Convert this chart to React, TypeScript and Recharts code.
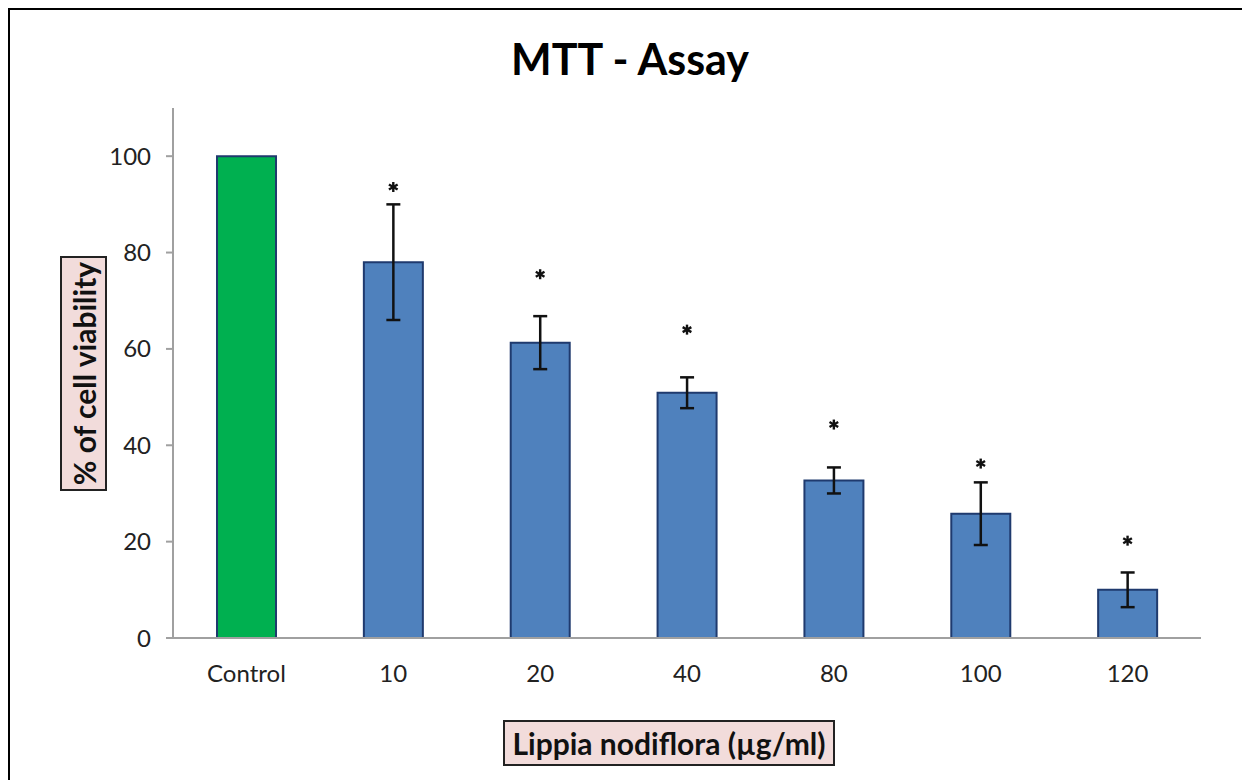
import React from 'react';
import { ComposedChart, Bar, Cell, ErrorBar, Scatter, XAxis, YAxis } from 'recharts';

const doses = ['Control', '10', '20', '40', '80', '100', '120'];
const viability = [100, 78, 61.3, 50.9, 32.7, 25.8, 10];
const sd = [0, 12, 5.5, 3.2, 2.7, 6.5, 3.6];
const starLevel = [null, 93.6, 75.5, 64, 44.3, 36.2, 20.2];
const yTicks = [0, 20, 40, 60, 80, 100];
const boundaryTicks = [0, 1, 2, 3, 4, 5, 6, 7];

const rows = doses.map((dose, i) => ({
    dose,
    value: viability[i],
    sd: sd[i],
    star: starLevel[i],
}));

const FONT = 'Lato, "Open Sans", sans-serif';
const AXIS_GREY = '#a0a0a0';

const Asterisk = (props: any) => {
    const { cx, cy } = props;
    if (cx == null || cy == null) return null;
    const r = 5;
    return (
        <g stroke="#111" strokeWidth={2.4}>
            <line x1={cx} y1={cy - r} x2={cx} y2={cy + r} />
            <line x1={cx - r * 0.87} y1={cy - r / 2} x2={cx + r * 0.87} y2={cy + r / 2} />
            <line x1={cx - r * 0.87} y1={cy + r / 2} x2={cx + r * 0.87} y2={cy - r / 2} />
        </g>
    );
};

const labelBox: React.CSSProperties = {
    position: 'absolute',
    background: '#f2dcdb',
    border: '2px solid #222',
    boxSizing: 'border-box',
    fontFamily: FONT,
    fontWeight: 700,
    color: '#111',
    display: 'flex',
    alignItems: 'center',
    justifyContent: 'center',
    whiteSpace: 'nowrap',
};

const App: React.FC = () => {
    return (
        <div
            style={{
                position: 'relative',
                width: 1242,
                height: 772,
                boxSizing: 'border-box',
                borderTop: '2px solid #000',
                borderLeft: '2px solid #000',
                background: '#fff',
                overflow: 'hidden',
            }}
        >
            <div
                style={{
                    position: 'absolute',
                    left: 370,
                    width: 500,
                    top: 23,
                    textAlign: 'center',
                    fontFamily: FONT,
                    fontWeight: 700,
                    fontSize: 43,
                    color: '#000',
                }}
            >
                MTT - Assay
            </div>

            <ComposedChart
                width={1240}
                height={770}
                data={rows}
                margin={{ top: 98, right: 49, bottom: 94, left: 0 }}
            >
                <XAxis
                    xAxisId="a"
                    type="number"
                    domain={[0, 7]}
                    ticks={boundaryTicks}
                    allowDataOverflow
                    tick={false}
                    tickSize={7}
                    height={8}
                    stroke={AXIS_GREY}
                    strokeWidth={2}
                />
                <XAxis
                    xAxisId="b"
                    dataKey="dose"
                    axisLine={false}
                    tickLine={false}
                    tickSize={0}
                    tickMargin={19}
                    height={40}
                    tick={{ fill: '#222', fontSize: 24, fontFamily: FONT }}
                />
                <YAxis
                    domain={[0, 110]}
                    ticks={yTicks}
                    width={163}
                    tickSize={7}
                    tickMargin={15}
                    stroke={AXIS_GREY}
                    strokeWidth={2}
                    tick={{ fill: '#222', fontSize: 24, fontFamily: FONT }}
                />
                <Bar
                    xAxisId="b"
                    dataKey="value"
                    barSize={59}
                    stroke="#1f3a6e"
                    strokeWidth={2}
                    isAnimationActive={false}
                >
                    {rows.map((r, i) => (
                        <Cell key={r.dose} fill={i === 0 ? '#00b050' : '#4f81bd'} />
                    ))}
                    <ErrorBar dataKey="sd" width={7} stroke="#111" strokeWidth={2.5} />
                </Bar>
                <Scatter
                    xAxisId="b"
                    dataKey="star"
                    shape={<Asterisk />}
                    isAnimationActive={false}
                />
            </ComposedChart>

            <div
                style={{
                    ...labelBox,
                    left: -44,
                    top: 340,
                    width: 235,
                    height: 47,
                    fontSize: 30,
                    transform: 'rotate(-90deg)',
                }}
            >
                % of cell viability
            </div>
            <div
                style={{
                    ...labelBox,
                    left: 493,
                    top: 710,
                    width: 332,
                    height: 46,
                    fontSize: 30,
                }}
            >
                Lippia nodiflora (µg/ml)
            </div>
        </div>
    );
};

export default App;
